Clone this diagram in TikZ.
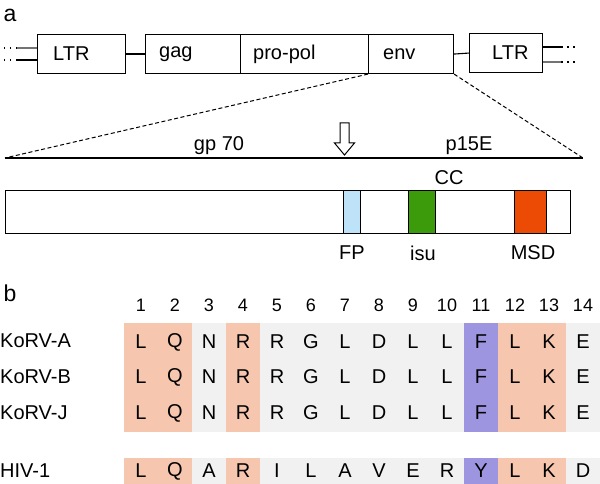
\documentclass[tikz,border=0pt]{standalone}
\usepackage{fontspec}
\setmainfont{Liberation Sans}
\definecolor{salmon}{HTML}{F6C6AE}
\definecolor{lilac}{HTML}{9E95E0}
\definecolor{lgray}{HTML}{F1F1F1}
\definecolor{fpblue}{HTML}{BEE3F8}
\definecolor{isugreen}{HTML}{3C9B0A}
\definecolor{msdred}{HTML}{EC4B06}
\begin{document}
\begin{tikzpicture}[x=1pt,y=-1pt,
  every node/.style={font=\fontsize{20}{24}\selectfont, inner sep=0pt},
  gbox/.style={draw, line width=1.1pt, rectangle, minimum height=39pt, anchor=north west},
  lbl/.style={anchor=west},
  numlbl/.style={font=\fontsize{18}{22}\selectfont},
  panel/.style={font=\fontsize{23}{27}\selectfont},
  thin line/.style={line width=1.1pt},
  dotline/.style={line width=1.1pt, dash pattern=on 1.5pt off 4.5pt},
  dashline/.style={line width=1pt, dash pattern=on 4pt off 2.5pt}]
\useasboundingbox (0,0) rectangle (600,484);

% panel labels
\node[panel] (pa) at (10,15) {a};
\node[panel] (pb) at (10,293) {b};

% genome boxes
\node[gbox, minimum width=88pt] (ltr1) at (37,34) {};
\node[gbox, minimum width=95pt] (gag) at (145,34) {};
\node[gbox, minimum width=128pt] (pol) at (240,34) {};
\node[gbox, minimum width=85pt] (env) at (368,34) {};
\node[gbox, minimum width=73pt] (ltr2) at (469,33) {};
\node[lbl] (tltr1) at (53,54) {LTR};
\node[lbl] (tgag) at (159,54) {gag};
\node[lbl] (tpol) at (253,54) {pro-pol};
\node[lbl] (tenv) at (383,54) {env};
\node[lbl] (tltr2) at (492,53) {LTR};
\draw[thin line] (ltr1.east) -- (gag.west);
\draw[thin line] (env.east) -- (ltr2.west);

% flanking ends
\coordinate (l1a) at (17,48); \coordinate (l1b) at (3,48);
\coordinate (l2a) at (17,60); \coordinate (l2b) at (3,60);
\draw[thin line, black!55] (ltr1.west |- l1a) -- (l1a);
\draw[thin line] (ltr1.west |- l2a) -- (l2a);
\draw[dotline] (l1a) -- (l1b);
\draw[dotline] (l2a) -- (l2b);
\coordinate (r1a) at (561,47); \coordinate (r1b) at (578,47);
\coordinate (r2a) at (561,62); \coordinate (r2b) at (578,62);
\draw[thin line] (ltr2.east |- r1a) -- (r1a);
\draw[thin line, black!55] (ltr2.east |- r2a) -- (r2a);
\draw[dotline] (r1a) -- (r1b);
\draw[dotline] (r2a) -- (r2b);

% expansion
\coordinate (linel) at (5,158);
\coordinate (liner) at (583,158);
\draw[thin line] (linel) -- (liner);
\draw[dashline] (env.south west) -- (linel);
\draw[dashline] (env.south east) -- (liner);
\node (gp) at (219,146) {gp 70};
\node (p15) at (469,146) {p15E};
\draw[line width=1pt, fill=white] (340,123) -- (349,123) -- (349,143) -- (354.5,143) -- (344.5,155) -- (334.5,143) -- (340,143) -- cycle;

% protein bar
\node[draw, line width=1.1pt, minimum width=565pt, minimum height=43pt, anchor=north west] (bar) at (5,190) {};
\node[draw, line width=1.1pt, fill=fpblue, minimum width=17pt, minimum height=43pt, anchor=north west] (fp) at (343,190) {};
\node[draw, line width=1.1pt, fill=isugreen, minimum width=27pt, minimum height=43pt, anchor=north west] (isu) at (408,190) {};
\node[draw, line width=1.1pt, fill=msdred, minimum width=32pt, minimum height=43pt, anchor=north west] (msd) at (514,190) {};
\node (cc) at (449,178) {CC};
\node (tfp) at (352,253) {FP};
\node (tisu) at (423,253) {isu};
\node (tmsd) at (533,253) {MSD};

% alignment shading
\foreach \k/\c in {1/salmon,2/salmon,3/lgray,4/salmon,5/lgray,6/lgray,7/lgray,8/lgray,9/lgray,10/lgray,11/lilac,12/salmon,13/salmon,14/lgray}{
  \fill[\c] ({124+34*(\k-1)},323) rectangle ({124+34*\k},432);
  \fill[\c] ({124+34*(\k-1)},458) rectangle ({124+34*\k},484);
  \node[numlbl] (n\k) at ({107+34*\k},305) {\k};
}
\node[lbl] (ra) at (0,341) {KoRV-A};
\node[lbl] (rb) at (0,377) {KoRV-B};
\node[lbl] (rj) at (0,413) {KoRV-J};
\node[lbl] (rh) at (0,471) {HIV-1};
\foreach \a [count=\k] in {L,Q,N,R,R,G,L,D,L,L,F,L,K,E}{
  \node (a\k) at ({107+34*\k},342) {\a};
  \node (b\k) at ({107+34*\k},377) {\a};
  \node (j\k) at ({107+34*\k},413) {\a};
}
\foreach \a [count=\k] in {L,Q,A,R,I,L,A,V,E,R,Y,L,K,D}{
  \node (h\k) at ({107+34*\k},471) {\a};
}
\end{tikzpicture}
\end{document}
